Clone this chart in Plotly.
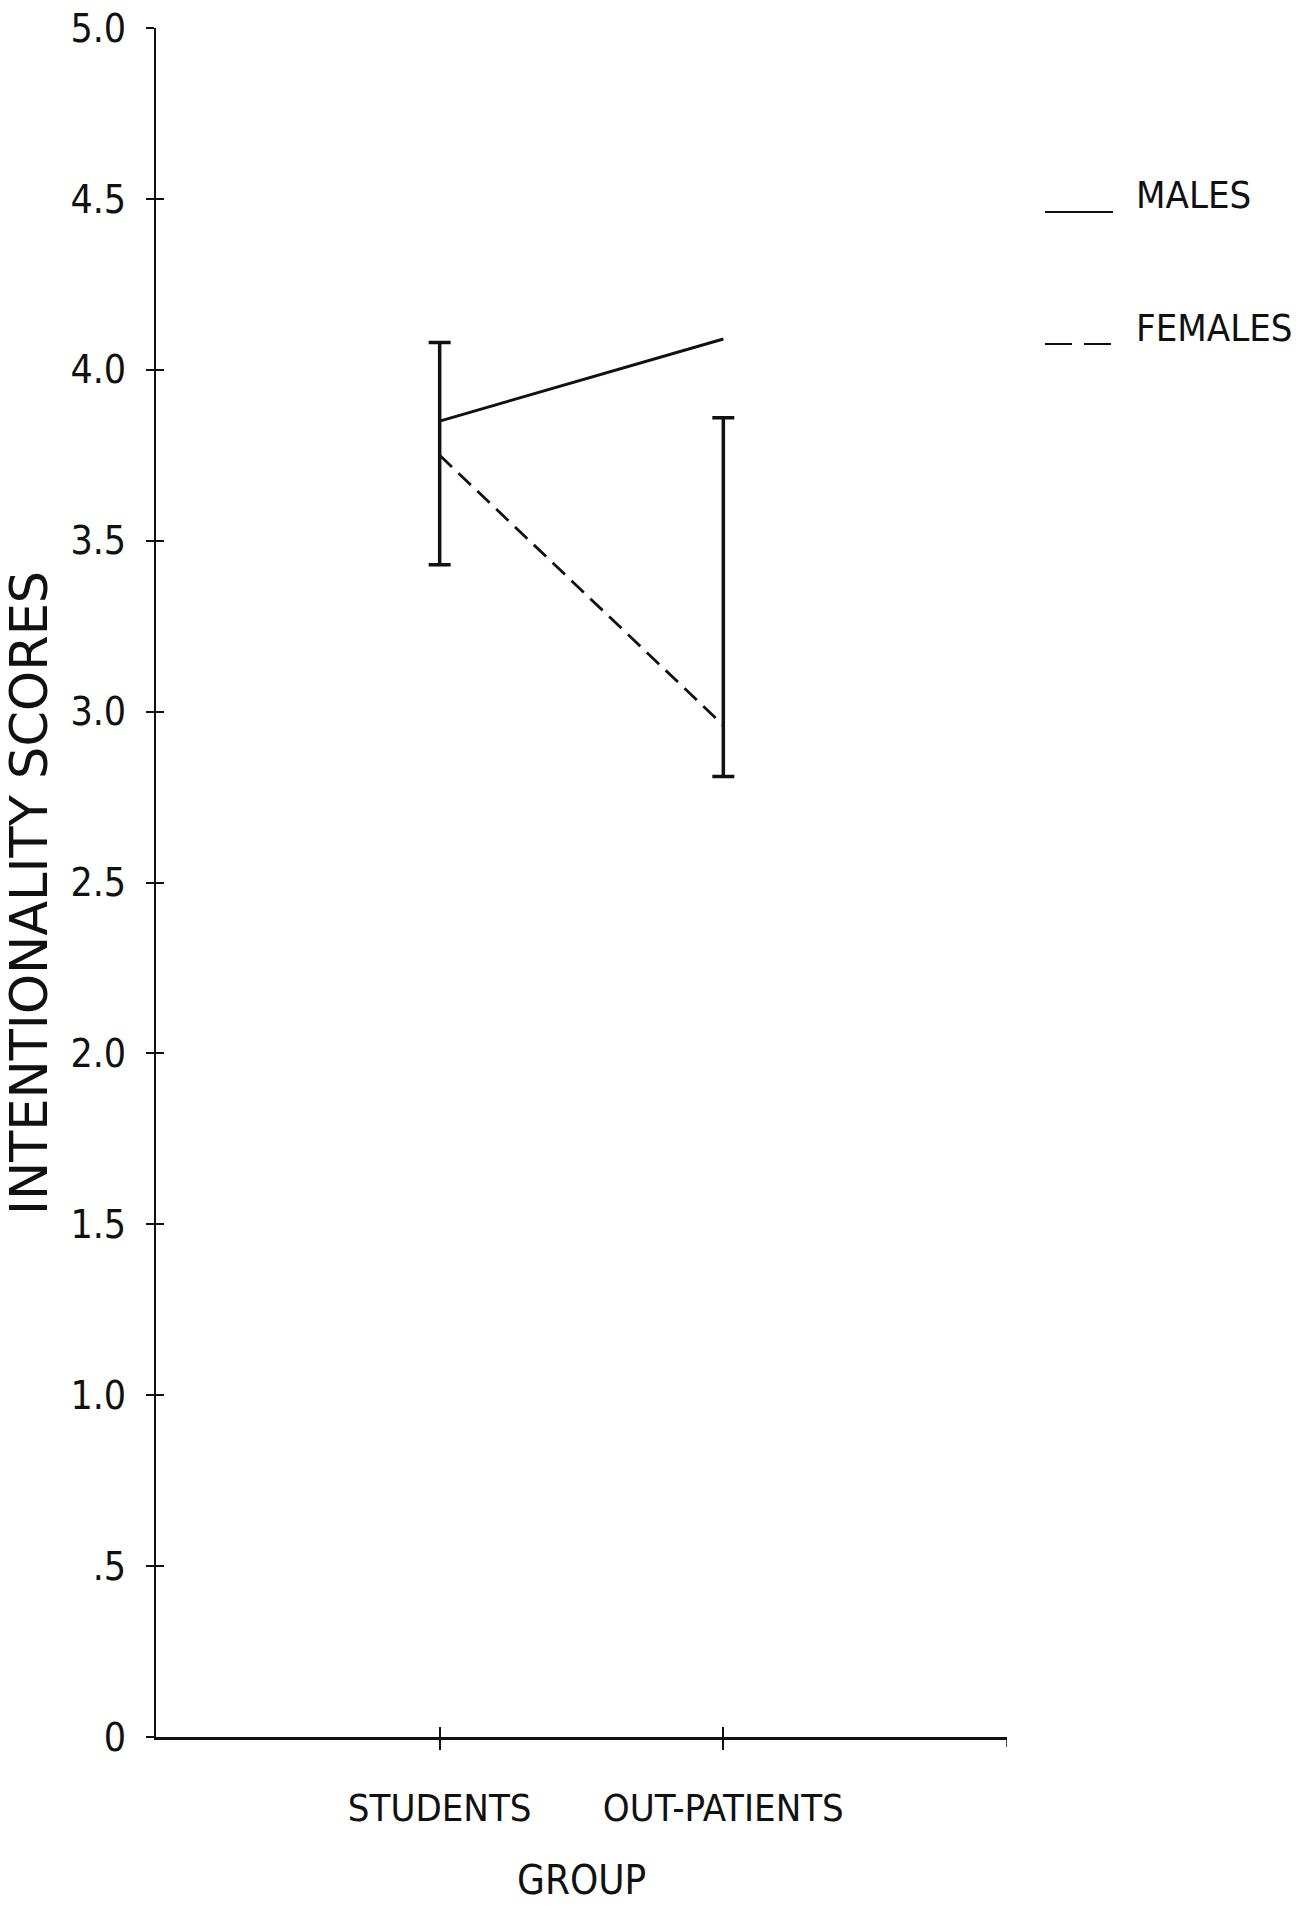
import plotly.graph_objects as go

# Group categories on the x axis (positions 1 and 2 on a 0-3 axis)
groups = ["STUDENTS", "OUT-PATIENTS"]
group_pos = [1, 2]

# Mean intentionality scores
males = [3.85, 4.09]
females = [3.75, 2.96]

# Vertical range bars drawn at each group
range_low = [3.43, 2.81]
range_high = [4.08, 3.86]

# Y tick labels
y_ticks = [0, 0.5, 1.0, 1.5, 2.0, 2.5, 3.0, 3.5, 4.0, 4.5, 5.0]
y_tick_text = ["0", ".5", "1.0", "1.5", "2.0", "2.5", "3.0", "3.5", "4.0", "4.5", "5.0"]

NARROW = "DejaVu Sans Condensed, Liberation Sans Narrow, Arial Narrow, sans-serif"
WIDE = "DejaVu Sans, Verdana, sans-serif"
INK = "#111111"

# Plot-area geometry in pixels
W, H = 1306, 1908
ML, MR, MT, MB = 156, 299, 28, 171
PW, PH = W - ML - MR, H - MT - MB


def px_x(x):
    return (x - ML) / PW


def px_y(y):
    return 1 - (y - MT) / PH


fig = go.Figure()

# Range bars: invisible base point at the low end, bar extends up to the high end
fig.add_trace(go.Scatter(
    x=group_pos, y=range_low, mode="markers",
    marker=dict(size=1, color="rgba(0,0,0,0)"),
    error_y=dict(type="data", symmetric=False,
                 array=[h - l for h, l in zip(range_high, range_low)],
                 arrayminus=[0, 0],
                 color=INK, thickness=3.5, width=11),
    showlegend=False, hoverinfo="skip",
))

fig.add_trace(go.Scatter(
    x=group_pos, y=males, mode="lines", name="MALES",
    line=dict(color=INK, width=3),
    showlegend=False,
))
fig.add_trace(go.Scatter(
    x=group_pos, y=females, mode="lines", name="FEMALES",
    line=dict(color=INK, width=2.8, dash="17px,9px"),
    showlegend=False,
))

# Secondary invisible trace to carry the inward-facing ticks
fig.add_trace(go.Scatter(x=[None], y=[None], xaxis="x2", yaxis="y2",
                         showlegend=False, hoverinfo="skip"))

axis_common = dict(showgrid=False, zeroline=False, automargin=False)

fig.update_layout(
    width=W, height=H,
    paper_bgcolor="white", plot_bgcolor="white",
    margin=dict(l=ML, r=MR, t=MT, b=MB),
    xaxis=dict(
        range=[0, 3], tickvals=group_pos, ticktext=groups, tickangle=0,
        ticks="outside", ticklen=10, tickwidth=1.5, tickcolor=INK,
        showline=True, linecolor=INK, linewidth=2.5,
        tickfont=dict(family=NARROW, size=38, color=INK),
        ticklabelstandoff=26,
        **axis_common,
    ),
    yaxis=dict(
        range=[0, 5], tickvals=y_ticks, ticktext=y_tick_text,
        ticks="outside", ticklen=8, tickwidth=1.5, tickcolor=INK,
        showline=True, linecolor=INK, linewidth=2,
        tickfont=dict(family=NARROW, size=39, color=INK),
        ticklabelstandoff=12,
        **axis_common,
    ),
    xaxis2=dict(
        range=[0, 3], tickvals=[1, 2, 3], overlaying="x", side="bottom",
        ticks="inside", ticklen=10, tickwidth=1.5, tickcolor=INK,
        showticklabels=False, showline=False, **axis_common,
    ),
    yaxis2=dict(
        range=[0, 5], tickvals=y_ticks, overlaying="y", side="left",
        ticks="inside", ticklen=8, tickwidth=1.5, tickcolor=INK,
        showticklabels=False, showline=False, **axis_common,
    ),
)

# Outward tick at the far right end of the x axis
fig.add_shape(type="line", xref="x", yref="paper", x0=3, x1=3, y0=0, y1=px_y(H - MB + 10),
              line=dict(color=INK, width=1.5))

# X-axis title
fig.add_annotation(
    text="GROUP", xref="paper", yref="paper", x=0.5, y=px_y(1880),
    xanchor="center", yanchor="middle", showarrow=False,
    font=dict(family=NARROW, size=40, color=INK),
)

# Rotated y-axis title
fig.add_annotation(
    text="INTENTIONALITY SCORES", textangle=-90,
    xref="paper", yref="paper", x=px_x(29), y=px_y(893),
    xanchor="center", yanchor="middle", showarrow=False,
    font=dict(family=WIDE, size=51, color=INK),
)

# Legend: short sample line under each label
legend_items = [("MALES", "solid", 212, 195), ("FEMALES", "dash", 344, 328)]
for label, dash, line_y, text_y in legend_items:
    fig.add_shape(type="line", xref="paper", yref="paper",
                  x0=px_x(1045), x1=px_x(1113),
                  y0=px_y(line_y), y1=px_y(line_y),
                  line=dict(color=INK, width=2.2, dash="27px,12px" if dash == "dash" else "solid"))
    fig.add_annotation(text=label, xref="paper", yref="paper",
                       x=px_x(1134), y=px_y(text_y),
                       xanchor="left", yanchor="middle", showarrow=False,
                       font=dict(family=NARROW, size=38, color=INK))

fig.write_html("out.html")
